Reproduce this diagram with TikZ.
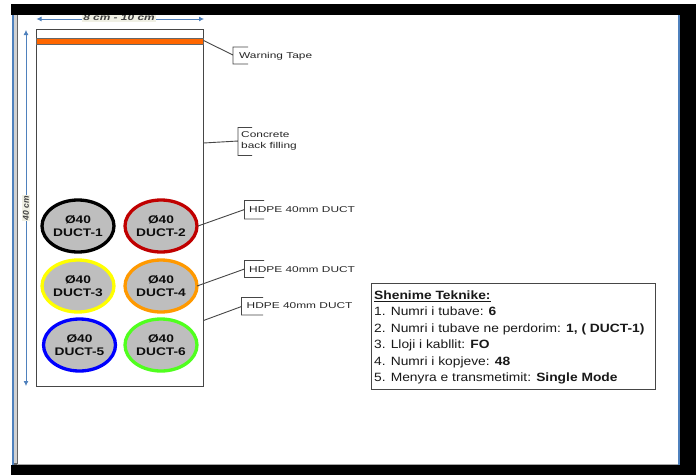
\documentclass[tikz,border=0pt]{standalone}
\usepackage{fontspec}
\setmainfont{Liberation Sans}
\newfontfamily\labfont[FakeStretch=1.4]{Liberation Sans}
\newfontfamily\ductfont[FakeStretch=1.25]{Liberation Sans}
\newfontfamily\notefont[FakeStretch=1.15]{Liberation Sans}
\usetikzlibrary{shapes.geometric,arrows.meta}
\definecolor{dimblue}{RGB}{79,129,189}
\definecolor{ductgrey}{RGB}{190,190,190}
\definecolor{tape}{RGB}{255,102,0}
\definecolor{linegrey}{RGB}{70,70,70}
\definecolor{ductred}{RGB}{192,0,0}
\definecolor{ductorange}{RGB}{255,153,0}
\definecolor{ductgreen}{RGB}{80,255,30}
\definecolor{ductyellow}{RGB}{255,255,0}
\definecolor{dimbg}{RGB}{240,240,228}
\tikzset{
  x=1pt,y=-1pt,
  ductnode/.style={ellipse,draw=#1,line width=3.3pt,fill=ductgrey,minimum width=72pt,minimum height=52pt,inner sep=0pt,align=center,font=\ductfont\fontsize{11pt}{13pt}\selectfont\bfseries,text=black!95},
  dimline/.style={draw=dimblue,line width=.8pt,{Latex[length=5pt,width=5pt]}-{Latex[length=5pt,width=5pt]}},
  leader/.style={draw=linegrey,line width=.9pt},
  labeltext/.style={inner sep=0pt,anchor=west,align=left,text=black!85,font=\labfont\fontsize{8.5pt}{11.5pt}\selectfont},
}
\begin{document}
\begin{tikzpicture}
\useasboundingbox (0,0) rectangle (696,475);
\fill[white] (0,0) rectangle (696,475);
% dimensions
\coordinate (wl) at (36.5,19);
\coordinate (wr) at (204,19);
\draw[dimline] (wl) -- (wr);
\node[fill=dimbg,inner sep=1pt,font=\labfont\fontsize{8.5pt}{9pt}\selectfont\bfseries\itshape,text=black!75] (wd) at (119,17.5) {8 cm - 10 cm};
\coordinate (ht) at (26,30);
\coordinate (hb) at (26,386);
\draw[dimline] (ht) -- (hb);
\node[fill=dimbg,inner sep=1pt,rotate=90,font=\fontsize{8.5pt}{9pt}\selectfont\bfseries\itshape,text=black!75] (hd) at (26,208) {40 cm};
% window frame
\fill[black] (11,4) rectangle (696,15);
\fill[black] (11,465) rectangle (696,475);
\fill[black] (680,4) rectangle (696,475);
\fill[black!60] (12,15) rectangle (18,465);
\fill[black!18] (14,15) rectangle (17,463);
\fill[dimblue] (12,15) rectangle (13.5,465);
\fill[black!35] (17,463.5) rectangle (679,465);
\fill[dimblue] (678,14.5) rectangle (680,465);
% trench
\node[draw=linegrey,line width=1.3pt,minimum width=167pt,minimum height=357pt,inner sep=0pt,anchor=north west] (trench) at (36,29) {};
\node[fill=tape,draw=black!60,line width=.6pt,minimum width=167pt,minimum height=6pt,inner sep=0pt,anchor=north west] (tapeband) at (36,38) {};
% ducts
\node[ductnode=black] (d1) at (78,226) {Ø40\\DUCT-1};
\node[ductnode=ductred] (d2) at (161,226) {Ø40\\DUCT-2};
\node[ductnode=ductyellow] (d3) at (78,286) {Ø40\\DUCT-3};
\node[ductnode=ductorange] (d4) at (161,286) {Ø40\\DUCT-4};
\node[ductnode=blue] (d5) at (79.5,345) {Ø40\\DUCT-5};
\node[ductnode=ductgreen] (d6) at (161,345) {Ø40\\DUCT-6};
% callouts
\node[labeltext] (l1) at (239,56) {Warning Tape};
\node[labeltext] (l2) at (241,141) {Concrete\\back filling};
\node[labeltext] (l3) at (249,210) {HDPE 40mm DUCT};
\node[labeltext] (l4) at (249,270) {HDPE 40mm DUCT};
\node[labeltext] (l5) at (246.5,306) {HDPE 40mm DUCT};
\coordinate (a1) at (203.5,40.5);
\coordinate (a2) at (203.5,143);
\coordinate (a3) at (198,226);
\coordinate (a4) at (197,286);
\coordinate (a5) at (203.5,320.5);
\draw[leader] (a1) -- (233,55) (248,47) -- (233,47) -- (233,64) -- (248,64);
\draw[leader] (a2) -- (238,141) (252,127.5) -- (238,127.5) -- (238,155.5) -- (252,155.5);
\draw[leader] (a3) -- (244.5,209.5) (264,200.5) -- (244.5,200.5) -- (244.5,219) -- (264,219);
\draw[leader] (a4) -- (244.5,269) (264,260.5) -- (244.5,260.5) -- (244.5,277.5) -- (264,277.5);
\draw[leader] (a5) -- (241.5,306.5) (263,297.5) -- (241.5,297.5) -- (241.5,315) -- (263,315);
% notes
\node[draw=linegrey,line width=1.3pt,minimum width=284.5pt,minimum height=106pt,inner sep=0pt,anchor=north west] (notesbox) at (370.5,283) {};
\node[anchor=north west,inner sep=0pt,align=left,text=black!90,font=\notefont\fontsize{12pt}{16.4pt}\selectfont] (notes) at (374,290.5) {\textbf{\underline{Shenime Teknike:}}\\
1. Numri i tubave: \textbf{6}\\
2. Numri i tubave ne perdorim: \textbf{1, ( DUCT-1)}\\
3. Lloji i kabllit: \textbf{FO}\\
4. Numri i kopjeve: \textbf{48}\\
5. Menyra e transmetimit: \textbf{Single Mode}};
\end{tikzpicture}
\end{document}
